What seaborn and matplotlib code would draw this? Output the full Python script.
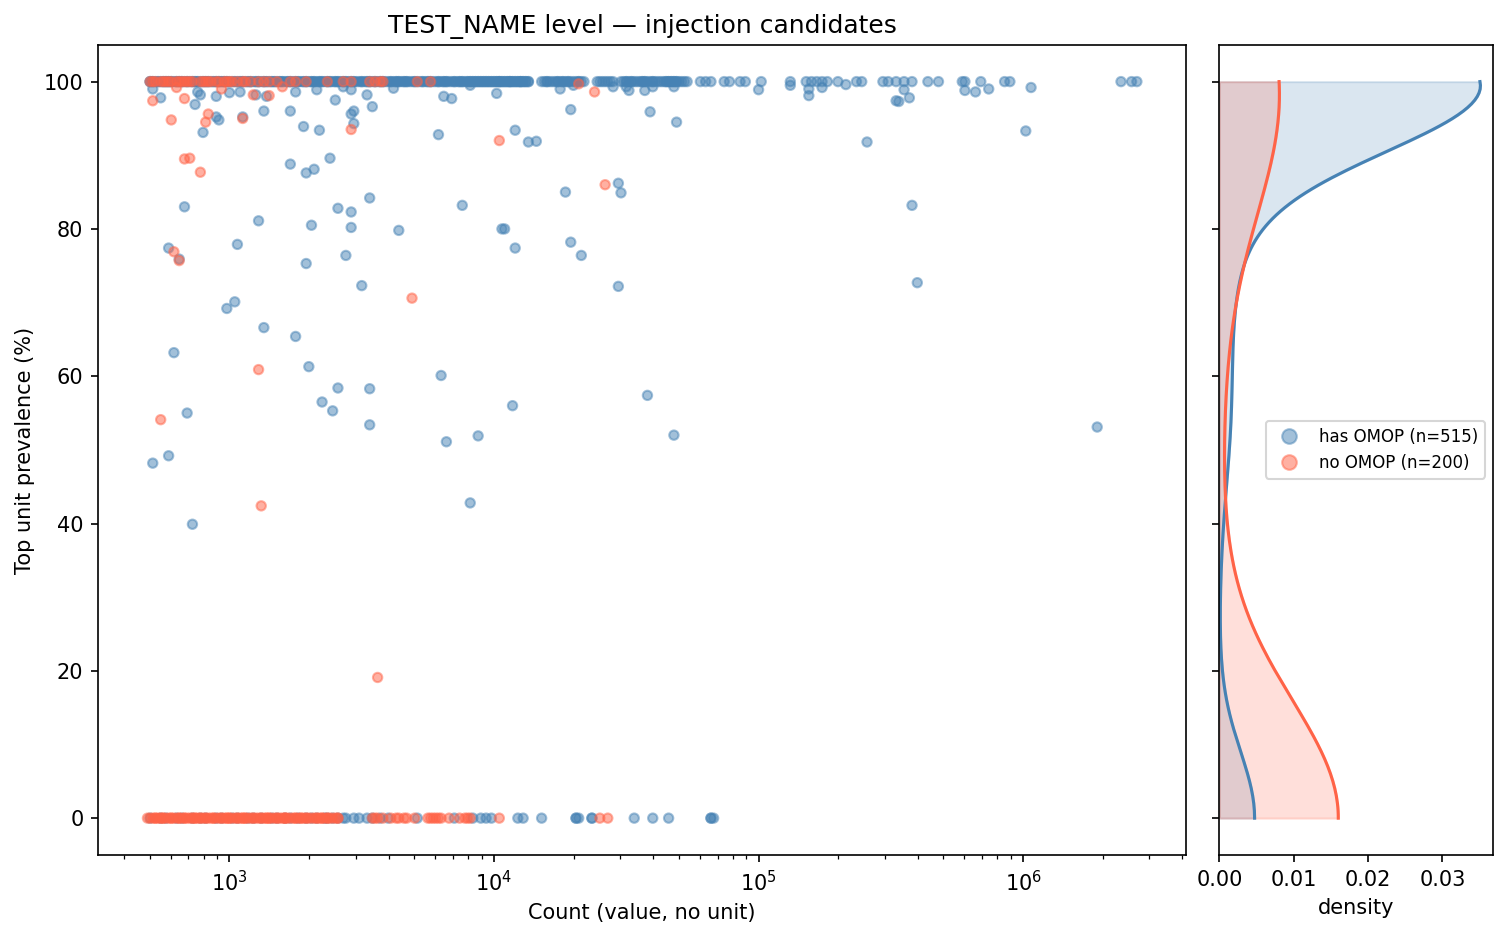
import numpy as np
import pandas as pd
import matplotlib
matplotlib.use("Agg")
import matplotlib.pyplot as plt
import seaborn as sns
from matplotlib.lines import Line2D
from matplotlib.colors import to_rgba

# groups
group_names = ["has OMOP", "no OMOP"]
group_n = [515, 200]
colors = ["steelblue", "tomato"]

# --- has OMOP: log10(count) of points sitting at 100 % ---
has_top_logx = [
    2.70, 2.70, 2.71, 2.71, 2.72, 2.73, 2.74, 2.75, 2.75, 2.76, 2.77, 2.78, 2.78, 2.79, 2.80, 2.81,
    2.81, 2.82, 2.83, 2.84, 2.84, 2.85, 2.86, 2.87, 2.88, 2.88, 2.89, 2.90, 2.91, 2.91, 2.92, 2.93,
    2.94, 2.94, 2.95, 2.96, 2.96, 2.97, 2.98, 2.98, 2.99, 3.00, 2.73, 2.77, 2.82, 2.87, 2.92, 2.95,
    2.97, 2.99, 2.86, 2.80, 2.76, 2.90,
    3.01, 3.02, 3.02, 3.03, 3.04, 3.05, 3.05, 3.06, 3.07, 3.08, 3.08, 3.09, 3.10, 3.11, 3.11, 3.12,
    3.13, 3.14, 3.14, 3.15, 3.16, 3.17, 3.17, 3.18, 3.19, 3.20, 3.20, 3.21, 3.22, 3.23, 3.23, 3.24,
    3.25, 3.26, 3.26, 3.27, 3.28, 3.29, 3.29, 3.30, 3.31, 3.32, 3.32, 3.33, 3.34, 3.35, 3.35, 3.36,
    3.37, 3.38, 3.38, 3.39, 3.40, 3.41, 3.41, 3.42, 3.43, 3.44, 3.44, 3.45, 3.46, 3.47, 3.47, 3.48,
    3.49, 3.50, 3.04, 3.10, 3.16, 3.22, 3.28, 3.34, 3.40, 3.46, 3.19, 3.07, 3.13, 3.25, 3.31, 3.37,
    3.43,
    3.50, 3.51, 3.52, 3.52, 3.53, 3.54, 3.55, 3.55, 3.56, 3.57, 3.58, 3.58, 3.59, 3.60, 3.61, 3.61,
    3.62, 3.63, 3.64, 3.64, 3.65, 3.66, 3.67, 3.67, 3.68, 3.69, 3.70, 3.70, 3.71, 3.72, 3.73, 3.73,
    3.74, 3.75, 3.76, 3.76, 3.77, 3.78, 3.79, 3.79, 3.80, 3.81, 3.82, 3.82, 3.83, 3.84, 3.85, 3.85,
    3.86, 3.87, 3.88, 3.88, 3.89, 3.90, 3.91, 3.91, 3.92, 3.92, 3.93, 3.93, 3.94, 3.94, 3.95, 3.95,
    3.96, 3.96, 3.97, 3.97, 3.98, 3.98, 3.99, 3.99, 4.00, 3.53, 3.66, 3.57, 3.63, 3.75, 3.81, 3.87,
    3.90,
    4.00, 4.01, 4.01, 4.02, 4.02, 4.03, 4.03, 4.04, 4.04, 4.05, 4.05, 4.06, 4.06, 4.07, 4.07, 4.08,
    4.08, 4.09, 4.09, 4.10, 4.10, 4.11, 4.11, 4.12, 4.12, 4.13, 4.13, 4.02, 4.06, 4.10,
    4.18, 4.19, 4.20, 4.20, 4.21, 4.22, 4.23, 4.24, 4.24, 4.25, 4.26, 4.27, 4.28, 4.28, 4.29, 4.30,
    4.31, 4.32, 4.32, 4.33, 4.34, 4.26,
    4.39, 4.40, 4.41, 4.42, 4.43, 4.44, 4.45,
    4.48, 4.49, 4.50, 4.51, 4.52, 4.52, 4.53, 4.54, 4.55, 4.56, 4.50,
    4.56, 4.57, 4.57, 4.58, 4.59, 4.60, 4.60, 4.61, 4.62, 4.63, 4.64, 4.65, 4.65, 4.66, 4.66, 4.67,
    4.67, 4.68, 4.68, 4.69, 4.69, 4.70, 4.71, 4.72, 4.73,
    4.78, 4.80, 4.82, 4.87, 4.89, 4.93, 4.95, 5.01, 5.12, 5.18, 5.20, 5.22, 5.24, 5.26, 5.30, 5.37,
    5.39, 5.47, 5.49, 5.52, 5.55, 5.58, 5.64, 5.68, 5.77, 5.78, 5.84, 5.93, 5.95, 6.37, 6.41, 6.43,
]

# has OMOP: points just below the top line and scattered ones (log10 count, prevalence %)
has_other_logx = [
    2.71, 2.74, 2.87, 2.88, 2.89, 2.95, 3.00, 3.13, 3.23, 3.28, 3.34, 3.40, 3.46, 3.47, 3.47, 3.52,
    3.54, 2.90, 2.95, 2.96, 3.05, 3.62, 3.81, 3.84, 4.01, 4.29, 3.79, 4.08, 4.13, 4.16, 4.59, 4.69,
    5.00, 5.12, 5.19, 5.19, 5.24, 5.33, 5.41, 5.55, 5.52, 5.53, 5.57, 5.78, 5.82, 5.87, 6.03, 6.01,
    4.45, 4.51, 3.04, 3.10, 3.14, 3.25, 3.33, 3.43, 3.46, 4.57, 4.60, 4.68, 4.25, 4.30, 3.91, 4.50,
    3.23, 3.29, 3.32, 3.38, 3.53, 2.83, 3.11, 3.31, 3.41, 3.46, 3.46, 4.27, 4.47, 4.48, 3.88, 3.64,
    4.03, 4.04, 5.58,
    2.77, 3.03, 2.81, 3.29, 3.44, 3.50, 4.08, 4.29, 4.33, 4.47, 3.02, 2.99, 3.13, 3.25, 2.79, 3.30,
    3.80, 3.41, 3.53, 4.07, 3.35, 3.39, 2.84, 3.53, 3.82, 3.94, 2.77, 2.71, 3.91, 2.86, 4.58, 4.68,
    5.60, 6.28,
]
has_other_prev = [
    99.0, 97.8, 96.9, 98.6, 98.2, 98.0, 98.5, 96.0, 96.0, 93.9, 93.4, 97.5, 95.6, 96.0, 94.3, 98.2,
    96.6, 93.1, 95.2, 94.8, 95.2, 99.1, 98.0, 97.7, 98.4, 96.2, 92.8, 93.4, 91.8, 91.9, 95.9, 94.5,
    98.9, 99.5, 99.0, 98.1, 99.2, 99.6, 91.8, 98.9, 97.4, 97.3, 97.8, 98.8, 98.6, 99.0, 99.2, 93.3,
    99.3, 98.8, 98.6, 98.2, 98.0, 98.6, 98.9, 99.3, 98.9, 98.8, 99.3, 99.3, 99.0, 99.5, 99.5, 99.3,
    88.8, 87.6, 88.1, 89.6, 84.2, 83.0, 81.1, 80.5, 82.8, 82.3, 80.2, 85.0, 86.2, 84.9, 83.2, 79.8,
    80.0, 80.0, 83.2,
    77.4, 77.9, 75.9, 75.3, 76.4, 72.3, 77.4, 78.2, 76.4, 72.2, 70.1, 69.2, 66.6, 65.4, 63.2, 61.3,
    60.1, 58.4, 58.3, 56.0, 56.5, 55.3, 55.0, 53.4, 51.1, 51.9, 49.2, 48.2, 42.8, 39.9, 57.4, 52.0,
    72.7, 53.1,
]

# has OMOP: points at 0 %
has_zero_logx = [
    2.70, 2.74, 2.76, 2.80, 2.82, 2.86, 2.89, 2.91, 2.95, 2.97, 3.01, 3.03, 3.07, 3.09, 3.12, 3.16,
    3.18, 3.21, 3.23, 3.26, 3.29, 3.31, 3.33, 3.36, 3.37, 3.39, 3.41, 3.43,
    3.44, 3.47, 3.49, 3.52, 3.54, 3.57, 3.60, 3.71, 3.85, 3.92, 3.95, 3.97, 3.99, 4.09, 4.11, 4.18,
    4.31, 4.31, 4.32, 4.37, 4.37, 4.53, 4.60, 4.66, 4.82, 4.82, 4.83,
]

# --- no OMOP ---
no_top_logx = [
    2.70, 2.71, 2.72, 2.74, 2.75, 2.76, 2.77, 2.78, 2.80, 2.81, 2.82, 2.83, 2.84, 2.85, 2.86,
    2.89, 2.90, 2.91, 2.92, 2.93, 2.95, 2.96, 2.98, 2.99, 3.00, 3.01, 3.03, 3.05,
    3.08, 3.11, 3.13, 3.15, 3.18, 3.23, 3.25, 3.29, 3.37, 3.43, 3.46,
    3.53, 3.55, 3.57, 3.58, 3.71, 3.76, 3.06,
]
no_other_logx = [
    2.71, 2.83, 2.78, 2.92, 2.91, 3.05, 3.09, 3.15, 3.46, 2.83, 2.85, 2.89, 4.02, 4.42, 4.38, 4.32,
    2.79, 2.81, 3.69, 3.11, 2.74, 3.12, 3.56, 2.80, 2.97, 3.20,
]
no_other_prev = [
    97.4, 97.7, 94.8, 95.6, 94.5, 95.0, 98.2, 98.1, 93.5, 89.5, 89.6, 87.7, 92.0, 86.0, 98.6, 99.7,
    76.9, 75.7, 70.6, 60.9, 54.1, 42.4, 19.1, 99.2, 99.0, 99.3,
]
no_zero_logx = [
    2.69, 2.70, 2.71, 2.72, 2.72, 2.73, 2.74, 2.75, 2.75, 2.76, 2.77, 2.78, 2.78, 2.79, 2.80, 2.81,
    2.81, 2.82, 2.83, 2.83, 2.84, 2.85, 2.86, 2.86, 2.87, 2.88, 2.89, 2.89, 2.90, 2.91, 2.91, 2.92,
    2.93, 2.94, 2.94, 2.95, 2.96, 2.97, 2.97, 2.98, 2.99, 3.00, 3.00, 3.01, 3.02, 3.03, 3.03, 3.04,
    3.05, 3.06, 3.06, 3.07, 3.08, 3.09, 3.09, 3.10, 3.11, 3.12, 3.12, 3.13, 3.14, 3.15, 3.15, 3.16,
    3.17, 3.18, 3.18, 3.19, 3.20, 3.21, 3.21, 3.22, 3.23, 3.24, 3.25, 3.25, 3.26, 3.27, 3.28, 3.29,
    3.29, 3.30, 3.31, 3.32, 3.33, 3.33, 3.34, 3.35, 3.36, 3.37, 3.37, 3.38, 3.39, 3.40, 3.41, 3.41,
    2.74, 2.87, 2.99, 3.14, 3.27, 3.35, 3.05, 3.21,
    3.54, 3.55, 3.56, 3.58, 3.61, 3.63, 3.64, 3.66, 3.67, 3.70, 3.75, 3.76, 3.77, 3.78, 3.79, 3.80,
    3.83, 3.87, 3.89, 3.90, 3.91, 4.02, 4.40, 4.43,
]


def block(logx, prev, name):
    logx = np.asarray(logx, dtype=float)
    return pd.DataFrame({"count": 10.0 ** logx, "prev": prev, "group": name})


df = pd.concat([
    block(has_top_logx, 100.0, group_names[0]),
    block(has_other_logx, has_other_prev, group_names[0]),
    block(has_zero_logx, 0.0, group_names[0]),
    block(no_top_logx, 100.0, group_names[1]),
    block(no_other_logx, no_other_prev, group_names[1]),
    block(no_zero_logx, 0.0, group_names[1]),
], ignore_index=True)

palette = dict(zip(group_names, colors))

fig = plt.figure(figsize=(10.05, 6.255), dpi=150)
gs = fig.add_gridspec(1, 2, width_ratios=[1088, 274], wspace=0.0485,
                      left=0.065, right=0.9907, top=0.952, bottom=0.0885)
ax = fig.add_subplot(gs[0])
ax_kde = fig.add_subplot(gs[1], sharey=ax)

ax.set_xscale("log")
sns.scatterplot(data=df, x="count", y="prev", hue="group", palette=palette, s=20,
                alpha=0.5, edgecolor="face", linewidth=1.0, ax=ax, legend=False)
ax.set_xlabel("Count (value, no unit)")
ax.set_ylabel("Top unit prevalence (%)")
ax.set_title("TEST_NAME level — injection candidates")

# marginal density of prevalence per group
for name, c in zip(group_names, colors):
    sub = df[df["group"] == name]
    sns.kdeplot(y=sub["prev"], ax=ax_kde, fill=True, color=c, alpha=0.2, cut=0,
                edgecolor=to_rgba(c, 0.2), linewidth=1.0)
    sns.kdeplot(y=sub["prev"], ax=ax_kde, color=c, cut=0, linewidth=1.5)

ax_kde.set_xlim(left=0)
ax_kde.set_xlabel("density")
ax_kde.set_ylabel("")
ax_kde.tick_params(labelleft=False)

handles = [Line2D([], [], marker="o", linestyle="", color=c, alpha=0.5, markersize=7)
           for c in colors]
labels = [f"{g} (n={n})" for g, n in zip(group_names, group_n)]
ax_kde.legend(handles, labels, loc="center right", fontsize=8)

fig.savefig("out.png", dpi=150)
